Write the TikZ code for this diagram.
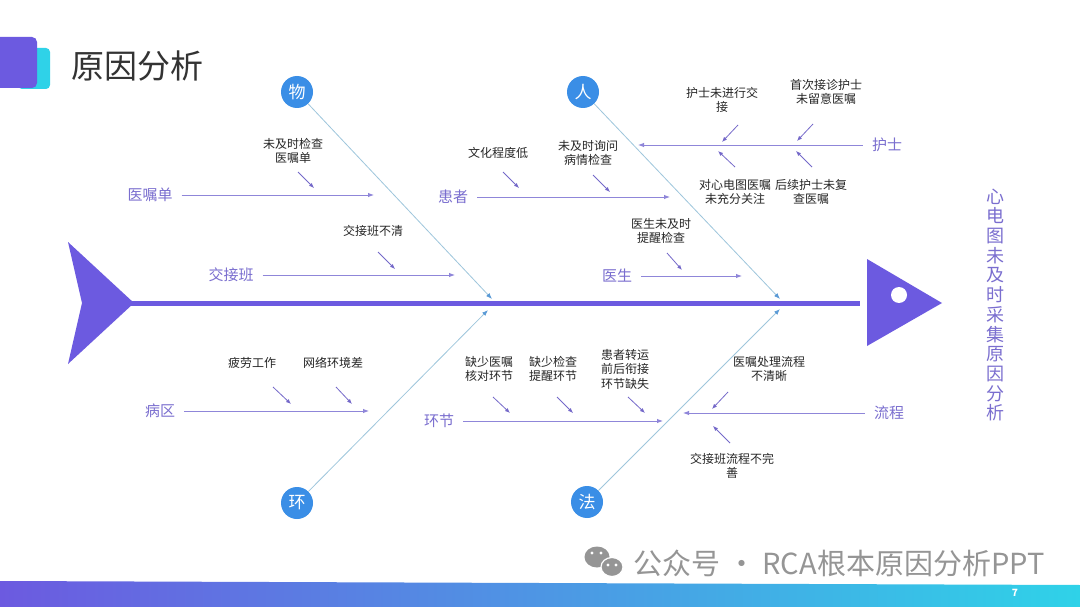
\documentclass[tikz,border=0pt]{standalone}
\usepackage{fontspec}
\setmainfont{Noto Sans CJK SC}
\usetikzlibrary{arrows.meta}

\definecolor{fishpurple}{HTML}{6C5AE0}
\definecolor{branchline}{HTML}{8F86D9}
\definecolor{labelpurple}{HTML}{7A6ECF}
\definecolor{boneline}{HTML}{9EC6DC}
\definecolor{bonetip}{HTML}{5A9AD6}
\definecolor{dotblue}{HTML}{3A8EE6}
\definecolor{subpurple}{HTML}{7468C9}
\definecolor{iconcyan}{HTML}{2FD2E8}
\definecolor{footgray}{HTML}{959595}

\begin{document}
\begin{tikzpicture}[x=1pt, y=-1pt,
  catlabel/.style={text=labelpurple, font=\fontsize{15}{18}\selectfont, inner sep=5pt},
  cause/.style={align=center, text=black!85, font=\fontsize{12}{14.5}\selectfont, inner sep=0pt},
  dot/.style={circle, fill=dotblue, minimum size=32pt, inner sep=0pt, text=white, font=\fontsize{17}{17}\selectfont},
  branch/.style={draw=branchline, line width=0.9pt, shorten <=4pt, -{Latex[length=6pt,width=4.5pt]}},
  bone/.style={draw=boneline, line width=0.8pt, -{Latex[length=6pt,width=4.5pt,color=bonetip]}},
  subarrow/.style={draw=subpurple, line width=0.8pt, -{Latex[length=5pt,width=4pt]}}]

  \useasboundingbox (0,0) rectangle (1080,607);
  \fill[white] (0,0) rectangle (1080,607);

  % Title with icon
  \fill[iconcyan, rounded corners=4pt] (18,48) rectangle (50,89);
  \fill[fishpurple, rounded corners=5pt] (-8,37) rectangle (37,88);
  \node[anchor=west, text=black!80, font=\fontsize{33}{36}\selectfont, inner sep=0pt] (title) at (71,66) {原因分析};

  % Tail, spine and head
  \fill[fishpurple] (68,242) -- (134,303) -- (68,364) -- (82,303) -- cycle;
  \draw[fishpurple, line width=5pt] (130,303) -- (860,303);
  \fill[fishpurple] (867,259) -- (942,303) -- (867,346) -- cycle;
  \fill[white] (899,295) circle (8);

  % Effect
  \node[align=center, text=labelpurple, font=\fontsize{18}{19.7}\selectfont, inner sep=0pt] (effect) at (995,305)
    {心\\电\\图\\未\\及\\时\\采\\集\\原\\因\\分\\析};

  % Main bones
  \node[dot] (wu)   at (297,92)  {物};
  \node[dot] (ren)  at (583,92)  {人};
  \node[dot] (huan) at (297,503) {环};
  \node[dot] (fa)   at (587,502) {法};
  \coordinate (wuend)   at (492,299);
  \coordinate (renend)  at (780,299);
  \coordinate (huanend) at (488,310);
  \coordinate (faend)   at (780,309);
  \foreach \b in {wu, ren, huan, fa} {
    \draw[bone] (\b) -- (\b end);
  }

  % Branch labels and their arrows
  \foreach \name/\x/\y/\ex/\side/\txt in {
      yizhudan/150/195/374/east/医嘱单,
      jiaojieban/231/275/455/east/交接班,
      huanzhe/453/197/670/east/患者,
      yisheng/617/276/742/east/医生,
      hushi/887/145/638/west/护士,
      bingqu/160/411/369/east/病区,
      huanjie/439/421/663/east/环节,
      liucheng/889/413/683/west/流程} {
    \node[catlabel] (\name) at (\x,\y) {\txt};
    \coordinate (\name end) at (\ex,\y);
    \draw[branch] (\name.\side) -- (\name end);
  }

  % Causes
  \foreach \name/\x/\y/\txt in {
      c1/293/151/{未及时检查\\医嘱单},
      c2/373/231/{交接班不清},
      c3/498/153/{文化程度低},
      c4/588/153/{未及时询问\\病情检查},
      c5/661/231/{医生未及时\\提醒检查},
      c6/722/100/{护士未进行交\\接},
      c7/826/92/{首次接诊护士\\未留意医嘱},
      c8/735/192/{对心电图医嘱\\未充分关注},
      c9/811/192/{后续护士未复\\查医嘱},
      c10/252/363/{疲劳工作},
      c11/333/363/{网络环境差},
      c12/489/369/{缺少医嘱\\核对环节},
      c13/553/369/{缺少检查\\提醒环节},
      c14/625/369/{患者转运\\前后衔接\\环节缺失},
      c15/769/369/{医嘱处理流程\\不清晰},
      c16/732/466/{交接班流程不完\\善}} {
    \node[cause] (\name) at (\x,\y) {\txt};
  }

  % Small cause arrows
  \foreach \x/\y/\dx/\dy in {
      298/172/16/16, 378/252/17/17, 503/172/16/16, 593/175/17/17,
      667/253/15/17, 738/125/-16/17, 813/124/-16/17, 735/167/-17/-16,
      812/167/-16/-16, 273/387/18/17, 336/387/16/17, 493/397/17/16,
      557/397/16/16, 628/397/17/16, 728/392/-16/17, 730/443/-17/-17} {
    \draw[subarrow] (\x,\y) -- ++(\dx,\dy);
  }

  % Footer band
  \shade[left color=fishpurple, middle color=dotblue!90, right color=iconcyan]
    (0,581) -- (1080,585) -- (1080,607) -- (0,607) -- cycle;
  \node[text=white, font=\fontsize{10}{10}\selectfont\bfseries] (page) at (1015,593) {7};

  % Footer account name
  \fill[footgray] (597,557) ellipse (12.5 and 10.5);
  \fill[footgray, draw=white, line width=1.2pt] (612,567) ellipse (11 and 9.5);
  \foreach \x/\y in {592/553, 601/553, 608/565, 616/565} {
    \fill[white] (\x,\y) circle (1.6);
  }
  \node[text=footgray, font=\fontsize{29}{32}\selectfont, inner sep=0pt] (account) at (839,563)
    {公众号 · RCA根本原因分析PPT};
\end{tikzpicture}
\end{document}
